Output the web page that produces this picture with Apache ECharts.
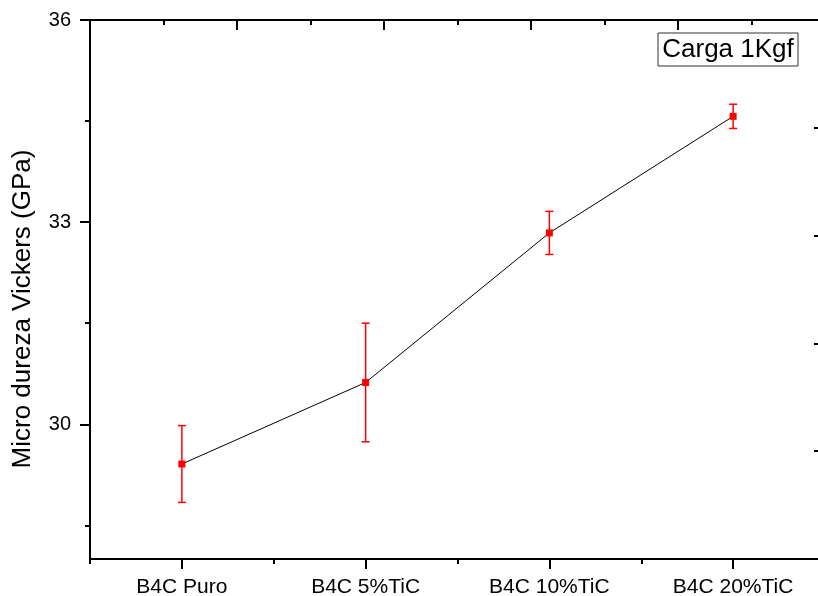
<!DOCTYPE html>
<html>
<head>
<meta charset="utf-8">
<script src="https://cdn.jsdelivr.net/npm/echarts@6/dist/echarts.min.js"></script>
<style>html,body{margin:0;padding:0;background:#fff;}#c{width:818px;height:596px;}</style>
</head>
<body>
<div id="c"></div>
<script>
const categories = ['B4C Puro', 'B4C 5%TiC', 'B4C 10%TiC', 'B4C 20%TiC'];
const hardness = [29.41, 30.62, 32.84, 34.57];
const errors = [0.57, 0.88, 0.32, 0.18];
const yMajorTicks = [30, 33, 36];
const yMinorTicks = [28.5, 31.5, 34.5];
const yAxisTitle = 'Micro dureza Vickers (GPa)';
const legendText = 'Carga 1Kgf';

const FONT = 'Liberation Sans, Arial, sans-serif';
const chart = echarts.init(document.getElementById('c'), null, {renderer: 'canvas'});
const black = '#000';
const errData = hardness.map((v, i) => [i, v - errors[i], v + errors[i]]);

chart.setOption({
  animation: false,
  backgroundColor: '#fff',
  grid: {left: 90, top: 20, width: 735, height: 539, outerBoundsMode: 'none', containLabel: false},
  xAxis: [
    {
      type: 'category', data: categories, position: 'bottom', boundaryGap: true,
      axisLine: {show: true, lineStyle: {color: black, width: 2}},
      axisTick: {show: true, alignWithLabel: true, length: 10, lineStyle: {color: black, width: 2}},
      axisLabel: {show: true, color: black, fontSize: 21, fontFamily: FONT, margin: 18},
      splitLine: {show: false}
    },
    {
      type: 'category', data: categories, position: 'bottom', boundaryGap: true,
      axisLine: {show: false},
      axisTick: {show: true, length: 5, lineStyle: {color: black, width: 2}},
      axisLabel: {show: false}, splitLine: {show: false}
    },
    {
      type: 'value', position: 'top', min: 0, max: 10, interval: 2,
      axisLine: {show: true, lineStyle: {color: black, width: 2}},
      axisTick: {show: true, inside: true, length: 10, lineStyle: {color: black, width: 2}},
      minorTick: {show: true, splitNumber: 2, length: 5, lineStyle: {color: black, width: 2}},
      axisLabel: {show: false}, splitLine: {show: false}
    }
  ],
  yAxis: [
    {
      type: 'value', position: 'left', min: 28, max: 36,
      axisLine: {show: true, lineStyle: {color: black, width: 2}},
      axisTick: {show: true, customValues: yMajorTicks, length: 10, lineStyle: {color: black, width: 2}},
      axisLabel: {customValues: yMajorTicks, color: black, fontSize: 20, fontFamily: FONT, margin: 19},
      splitLine: {show: false}
    },
    {
      type: 'value', position: 'left', min: 28, max: 36, offset: 0,
      axisLine: {show: false},
      axisTick: {show: true, customValues: yMinorTicks, length: 5, lineStyle: {color: black, width: 2}},
      axisLabel: {show: false}, splitLine: {show: false}
    },
    {
      type: 'value', position: 'right', min: 0, max: 5, interval: 1,
      axisLine: {show: true, lineStyle: {color: black, width: 2}},
      axisTick: {show: true, inside: true, length: 11, lineStyle: {color: black, width: 2}},
      axisLabel: {show: false}, splitLine: {show: false}
    }
  ],
  series: [
    {
      type: 'line', xAxisIndex: 0, yAxisIndex: 0, data: hardness,
      symbol: 'rect', symbolSize: 7, showSymbol: true,
      itemStyle: {color: '#ff0000'},
      lineStyle: {color: '#000', width: 1},
      z: 3
    },
    {
      type: 'custom', xAxisIndex: 0, yAxisIndex: 0, data: errData, z: 4,
      renderItem: function (params, api) {
        const x = api.value(0);
        const lo = api.coord([x, api.value(1)]);
        const hi = api.coord([x, api.value(2)]);
        const hw = 4;
        const style = {stroke: '#ff0000', lineWidth: 1.5};
        return {
          type: 'group',
          children: [
            {type: 'line', shape: {x1: lo[0], y1: lo[1], x2: hi[0], y2: hi[1]}, style: style},
            {type: 'line', shape: {x1: lo[0] - hw, y1: lo[1], x2: lo[0] + hw, y2: lo[1]}, style: style},
            {type: 'line', shape: {x1: hi[0] - hw, y1: hi[1], x2: hi[0] + hw, y2: hi[1]}, style: style}
          ]
        };
      }
    }
  ],
  graphic: [
    {
      type: 'text', x: 23, y: 309, rotation: Math.PI / 2,
      style: {text: yAxisTitle, fontSize: 26, fontFamily: FONT, fill: '#000', align: 'center', verticalAlign: 'middle'}
    },
    {
      type: 'group', x: 658, y: 33,
      children: [
        {type: 'rect', shape: {x: 0, y: 0, width: 140, height: 33}, style: {fill: '#fff', stroke: '#333', lineWidth: 1}},
        {type: 'text', x: 70, y: 17, style: {text: legendText, fontSize: 26, fontFamily: FONT, fill: '#000', align: 'center', verticalAlign: 'middle'}}
      ]
    }
  ]
});
</script>
</body>
</html>
